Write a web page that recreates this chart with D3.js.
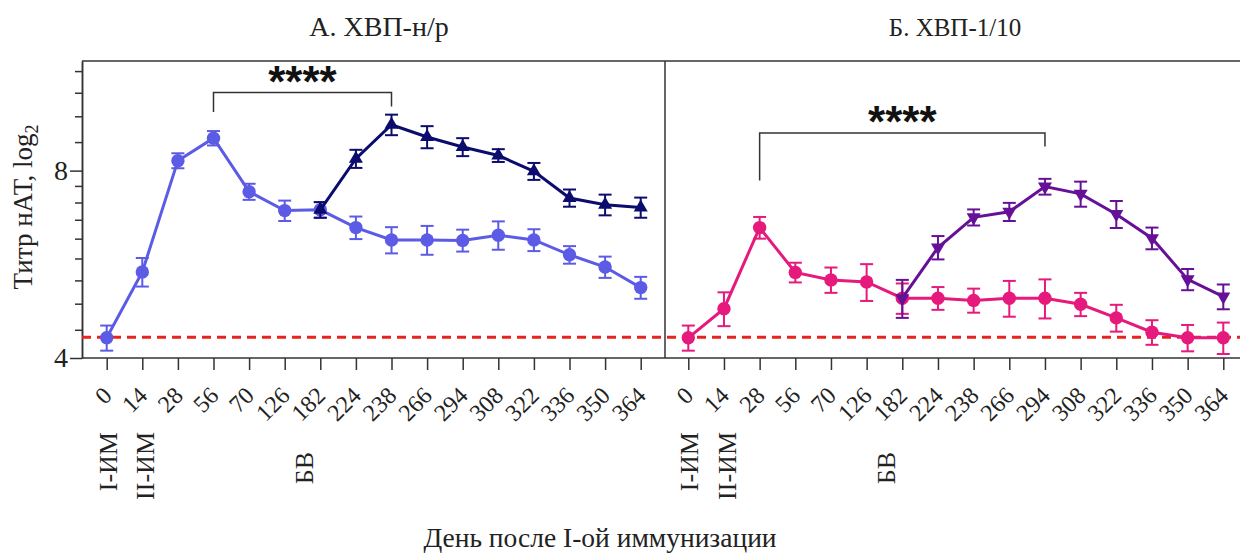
<!DOCTYPE html>
<html>
<head>
<meta charset="utf-8">
<script src="https://cdn.jsdelivr.net/npm/d3@7"></script>
<style>
  body { margin: 0; background: #fff; }
  svg { display: block; }
</style>
</head>
<body>
<svg id="chart" width="1240" height="553"></svg>
<script>
// days on the x axis (categorical)
const days = ["0", "14", "28", "56", "70", "126", "182", "224", "238", "266", "294", "308", "322", "336", "350", "364"];
const boostDays = ["182", "224", "238", "266", "294", "308", "322", "336", "350", "364"];

// panel A: ХВП-н/р
const leftPrimeMean = [4.31, 5.50, 8.30, 9.02, 7.40, 6.90, 6.92, 6.48, 6.19, 6.19, 6.18, 6.30, 6.19, 5.86, 5.60, 5.19];
const leftPrimeSem  = [0.20, 0.29, 0.23, 0.24, 0.22, 0.26, 0.20, 0.27, 0.30, 0.33, 0.25, 0.33, 0.25, 0.19, 0.22, 0.21];
const leftBoostMean = [6.92, 8.36, 9.48, 9.06, 8.73, 8.46, 7.98, 7.23, 7.05, 6.98];
const leftBoostSem  = [0.20, 0.28, 0.36, 0.37, 0.29, 0.20, 0.25, 0.23, 0.27, 0.26];

// panel Б: ХВП-1/10
const rightPrimeMean = [4.31, 4.80, 6.48, 5.49, 5.34, 5.30, 4.99, 4.99, 4.95, 4.99, 4.99, 4.88, 4.64, 4.40, 4.31, 4.31];
const rightPrimeSem  = [0.20, 0.30, 0.26, 0.20, 0.25, 0.36, 0.28, 0.21, 0.22, 0.33, 0.36, 0.21, 0.23, 0.20, 0.21, 0.25];
const rightBoostMean = [4.99, 6.02, 6.73, 6.87, 7.54, 7.34, 6.81, 6.23, 5.35, 5.02];
const rightBoostSem  = [0.35, 0.26, 0.20, 0.23, 0.22, 0.34, 0.34, 0.25, 0.21, 0.23];

// limit of detection (red dashed line)
const lodValue = 4.32;

// y ticks
const majorTicks = [4, 8];
const minorTicks = [4.44, 4.89, 5.33, 5.78, 6.22, 6.67, 7.11, 7.56, 8.89, 9.78, 10.67, 11.56];

// texts
const panelTitles = ["А. ХВП-н/р", "Б. ХВП-1/10"];
const eventLabels = [["0", "I-ИМ"], ["14", "II-ИМ"], ["182", "БВ"]];
const yTitle = "Титр нАТ, log";
const xTitle = "День после I-ой иммунизации";

const serif = "'Liberation Serif', 'Times New Roman', serif";
const svg = d3.select("#chart");

const plotTop = 61, plotBottom = 358, plotLeft = 82, plotMid = 665, plotRight = 1240;

const y = d3.scaleLog().base(2).domain([4, 12]).range([plotBottom, plotTop]);
const xL = d3.scalePoint().domain(days).range([106.7, 640.7]);
const xR = d3.scalePoint().domain(days).range([688.3, 1223.3]);

function zip(ds, means, sems)
{
    return ds.map((d, i) => ({day: d, m: means[i], s: sems[i]}));
}

// frame
const frame = svg.append("g").attr("stroke", "#333").attr("stroke-width", 1.5);
frame.append("line").attr("x1", plotLeft).attr("x2", plotRight).attr("y1", plotTop).attr("y2", plotTop);
frame.append("line").attr("x1", plotLeft).attr("x2", plotRight).attr("y1", plotBottom).attr("y2", plotBottom);
frame.append("line").attr("x1", plotMid).attr("x2", plotMid).attr("y1", plotTop).attr("y2", plotBottom);

// y axis
const yMajor = svg.append("g").attr("transform", `translate(${plotLeft},0)`)
    .call(d3.axisLeft(y).tickValues(majorTicks).tickSize(12).tickSizeOuter(0).tickFormat(d3.format("d")));
yMajor.selectAll("text").attr("font-family", serif).attr("font-size", 28).attr("fill", "#222").attr("x", -14);
const yMinor = svg.append("g").attr("transform", `translate(${plotLeft},0)`)
    .call(d3.axisLeft(y).tickValues(minorTicks).tickSize(7).tickSizeOuter(0).tickFormat(""));
svg.selectAll(".domain, .tick line").attr("stroke", "#333").attr("stroke-width", 1.5);

// x axes
[xL, xR].forEach(x => {
    const g = svg.append("g").attr("transform", `translate(0,${plotBottom})`)
        .call(d3.axisBottom(x).tickSize(12).tickSizeOuter(0));
    g.select(".domain").remove();
    g.selectAll(".tick line").attr("stroke", "#333").attr("stroke-width", 1.5);
    g.selectAll("text")
        .attr("font-family", serif).attr("font-size", 24).attr("fill", "#222")
        .attr("text-anchor", "end")
        .attr("x", 0).attr("y", 0).attr("dy", 0)
        .attr("transform", "translate(6,39) rotate(-45)");

    eventLabels.forEach(([d, label]) => {
        const shift = d === "182" ? -16 : (d === "14" ? 3 : 1);
        const ty = d === "182" ? 452 : 432;
        svg.append("text")
            .attr("transform", `translate(${x(d) + shift},${ty}) rotate(-90)`)
            .attr("text-anchor", "end").attr("dy", "0.35em")
            .attr("font-family", serif).attr("font-size", 26).attr("fill", "#222")
            .text(label);
    });
});

// limit of detection
svg.append("line")
    .attr("x1", plotLeft).attr("x2", plotRight)
    .attr("y1", y(lodValue)).attr("y2", y(lodValue))
    .attr("stroke", "#e8231e").attr("stroke-width", 3).attr("stroke-dasharray", "9,6");

function series(x, data, color, marker)
{
    const g = svg.append("g");
    g.append("path").datum(data)
        .attr("fill", "none").attr("stroke", color).attr("stroke-width", 3)
        .attr("d", d3.line().x(d => x(d.day)).y(d => y(d.m)));
    const bars = g.append("g").attr("stroke", color).attr("stroke-width", 2)
        .selectAll("g").data(data).join("g");
    bars.append("line")
        .attr("x1", d => x(d.day)).attr("x2", d => x(d.day))
        .attr("y1", d => y(d.m + d.s)).attr("y2", d => y(d.m - d.s));
    [1, -1].forEach(k => bars.append("line")
        .attr("x1", d => x(d.day) - 6.5).attr("x2", d => x(d.day) + 6.5)
        .attr("y1", d => y(d.m + k * d.s)).attr("y2", d => y(d.m + k * d.s)));
    if (marker === "circle")
    {
        g.selectAll("circle").data(data).join("circle")
            .attr("cx", d => x(d.day)).attr("cy", d => y(d.m)).attr("r", 6.7)
            .attr("fill", color);
    }
    else
    {
        const rot = marker === "down" ? 180 : 0;
        g.selectAll(".sym").data(data).join("path")
            .attr("class", "sym")
            .attr("d", d3.symbol(d3.symbolTriangle, 85))
            .attr("transform", d => `translate(${x(d.day)},${y(d.m)}) rotate(${rot})`)
            .attr("fill", color);
    }
}

series(xL, zip(days, leftPrimeMean, leftPrimeSem), "#5b5be6", "circle");
series(xL, zip(boostDays, leftBoostMean, leftBoostSem), "#0c0c6e", "up");
series(xR, zip(days, rightPrimeMean, rightPrimeSem), "#e6197c", "circle");
series(xR, zip(boostDays, rightBoostMean, rightBoostSem), "#661097", "down");

// significance brackets
function bracket(x, from, to, topV, leftV, rightV)
{
    const yt = y(topV);
    svg.append("path")
        .attr("fill", "none").attr("stroke", "#333").attr("stroke-width", 1.5)
        .attr("d", `M${x(from)},${y(leftV)}V${yt}H${x(to)}V${y(rightV)}`);
    svg.append("text")
        .attr("x", (x(from) + x(to)) / 2).attr("y", yt + 4)
        .attr("text-anchor", "middle")
        .attr("font-family", "'Liberation Sans', Arial, sans-serif")
        .attr("font-weight", "bold").attr("font-size", 44).attr("fill", "#111")
        .text("****");
}
bracket(xL, "56", "238", 10.68, 9.94, 10.14);
bracket(xR, "28", "294", 9.19, 7.71, 8.75);

// titles
svg.append("text").attr("x", 379).attr("y", 36).attr("text-anchor", "middle")
    .attr("font-family", serif).attr("font-size", 28).attr("fill", "#222").text(panelTitles[0]);
svg.append("text").attr("x", 955).attr("y", 36).attr("text-anchor", "middle")
    .attr("font-family", serif).attr("font-size", 25).attr("fill", "#222").text(panelTitles[1]);

const yLabel = svg.append("text")
    .attr("transform", "translate(32,207) rotate(-90)")
    .attr("text-anchor", "middle")
    .attr("font-family", serif).attr("font-size", 27).attr("fill", "#222");
yLabel.append("tspan").text(yTitle);
yLabel.append("tspan").attr("font-size", 18).attr("dy", 6).text("2");

svg.append("text").attr("x", 600).attr("y", 547).attr("text-anchor", "middle")
    .attr("font-family", serif).attr("font-size", 27.5).attr("fill", "#222").text(xTitle);
</script>
</body>
</html>
